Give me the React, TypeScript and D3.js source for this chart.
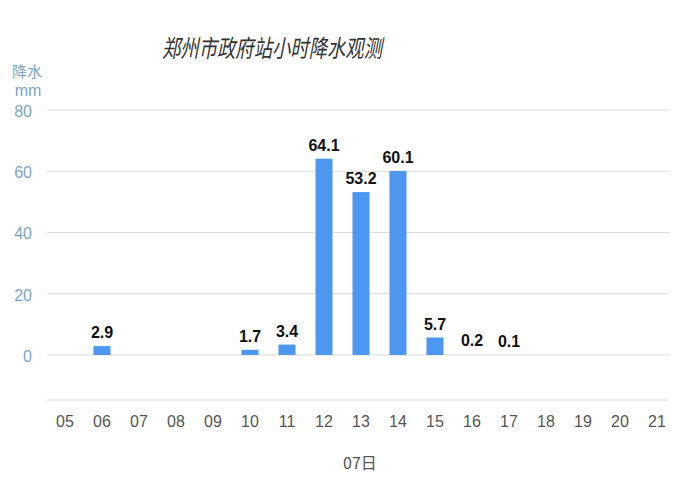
import * as d3 from 'd3';

const hours = ['05', '06', '07', '08', '09', '10', '11', '12', '13', '14', '15', '16', '17', '18', '19', '20', '21'];
const rain: (number | null)[] = [null, 2.9, null, null, null, 1.7, 3.4, 64.1, 53.2, 60.1, 5.7, 0.2, 0.1, null, null, null, null];
const yTicks = [0, 20, 40, 60, 80];

const width = 677;
const height = 500;
const cjk = '"Noto Sans CJK SC", "Noto Sans", sans-serif';
const latin = '"Liberation Sans", Arial, sans-serif';
const axisBlue = '#7ba5c6';

export default function App() {
  const x = d3.scaleBand<string>()
    .domain(hours)
    .range([46.5, 675.5])
    .paddingInner(0.54)
    .paddingOuter(0.27);
  const y = d3.scaleLinear().domain([-14.7, 80]).range([400, 110]);
  const bw = x.bandwidth();

  return (
    <svg width={width} height={height} style={{ display: 'block', margin: -8, background: '#fff' }}>
      <text x={272} y={57} textAnchor="middle" fontFamily={cjk} fontSize={24} fontStyle="italic" fill="#333"
        textLength={220} lengthAdjust="spacingAndGlyphs">
        郑州市政府站小时降水观测
      </text>

      <text x={27} y={77} textAnchor="middle" fontFamily={cjk} fontSize={15} fill={axisBlue}>降水</text>
      <text x={28} y={96} textAnchor="middle" fontFamily={latin} fontSize={16} fill={axisBlue}>mm</text>

      {yTicks.map(t => (
        <g key={t}>
          <line x1={47} x2={width} y1={y(t)} y2={y(t)} stroke="#dcdcdc" strokeWidth={1} />
          <text x={32} y={y(t) + 7} textAnchor="end" fontFamily={latin} fontSize={16} fill={axisBlue}>{t}</text>
        </g>
      ))}
      <line x1={47} x2={width} y1={y(-14.7)} y2={y(-14.7)} stroke="#dcdcdc" strokeWidth={1} />

      {hours.map((h, i) => {
        const v = rain[i];
        const bx = x(h)!;
        return (
          <g key={h}>
            {v !== null && v >= 0.5 && (
              <rect x={bx} y={y(v)} width={bw} height={y(0) - y(v)} fill="#4d97f0" />
            )}
            {v !== null && (
              <text x={bx + bw / 2} y={y(v) - 8} textAnchor="middle" fontFamily={latin} fontSize={16} fontWeight="bold" fill="#111">
                {v.toFixed(1)}
              </text>
            )}
            <text x={bx + bw / 2} y={427} textAnchor="middle" fontFamily={latin} fontSize={16} fill="#555">{h}</text>
          </g>
        );
      })}

      <text x={360} y={469} textAnchor="middle" fontFamily={cjk} fontSize={16} fill="#555">07日</text>
    </svg>
  );
}
